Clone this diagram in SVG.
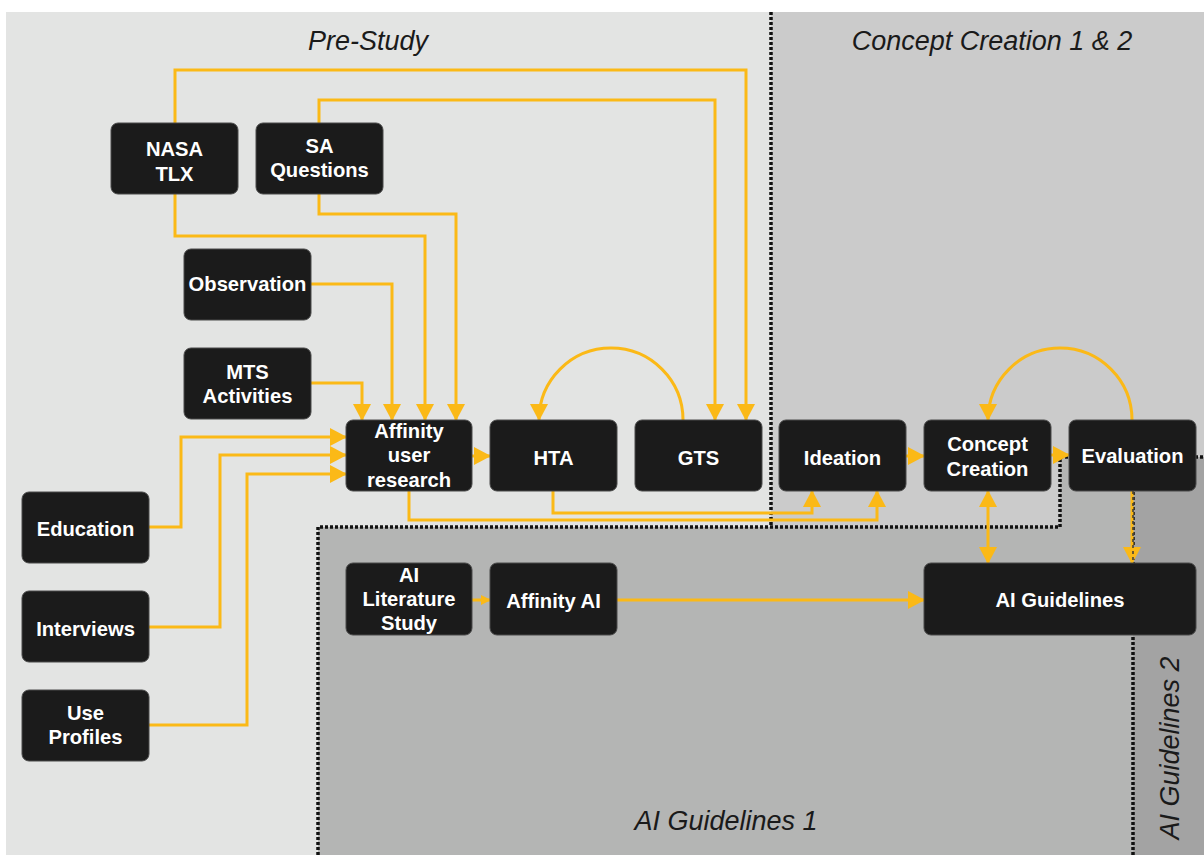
<svg xmlns="http://www.w3.org/2000/svg" width="1204" height="855" viewBox="0 0 1204 855">
  <defs>
    <style>
      .node rect { fill: #1b1b1b; stroke: #4a4a4a; stroke-width: 1; }
      .node text { font-family: "Liberation Sans", Arial, sans-serif; font-weight: bold; font-size: 20.2px; fill: #ffffff; text-anchor: middle; }
      .title { font-family: "Liberation Sans", Arial, sans-serif; font-style: italic; font-size: 27px; fill: #1a1a1a; text-anchor: middle; }
      .bound { fill: none; stroke: #111111; stroke-width: 3.5; stroke-dasharray: 3 2; }
      .conn { fill: none; stroke: #fbb917; stroke-width: 3; }
      .arr { marker-end: url(#ah); }
      .overlay { fill: none; stroke: #3a3a3a; stroke-width: 1.5; stroke-dasharray: 3 3; }
    </style>
    <marker id="ah" markerUnits="userSpaceOnUse" markerWidth="17" markerHeight="18" viewBox="0 0 17 18" refX="16" refY="9" orient="auto-start-reverse">
      <path d="M0,0 L17,9 L0,18 Z" fill="#fbb917"/>
    </marker>
    <marker id="ahs" markerUnits="userSpaceOnUse" markerWidth="10" markerHeight="10" viewBox="0 0 10 10" refX="9" refY="5" orient="auto">
      <path d="M0,0 L10,5 L0,10 Z" fill="#fbb917"/>
    </marker>
  </defs>

  <!-- phase regions -->
  <g id="regions">
    <rect x="0" y="0" width="1204" height="855" fill="#ffffff"/>
    <rect x="6" y="12" width="1198" height="843" fill="#e3e4e3"/>
    <polygon points="771,12 1204,12 1204,457 1060,457 1060,527 771,527" fill="#cbcbcb"/>
    <polygon points="318,527 1060,527 1060,457 1133,457 1133,855 318,855" fill="#b4b5b4"/>
    <rect x="1133" y="457" width="71" height="398" fill="#a3a3a3"/>
    <path class="bound" d="M771,12 V527"/>
    <path class="bound" d="M318,855 V527 H1060 V457 H1204"/>
    <path class="bound" d="M1133,457 V855"/>
    <text class="title" x="368" y="50">Pre-Study</text>
    <text class="title" x="992" y="50">Concept Creation 1 &amp; 2</text>
    <text class="title" x="726" y="830">AI Guidelines 1</text>
    <text class="title" transform="translate(1179,748) rotate(-90)">AI Guidelines 2</text>
  </g>

  <!-- connectors -->
  <g id="connectors">
    <path class="conn arr" d="M175,123 V70 H746 V420"/>
    <path class="conn arr" d="M319,123 V100 H715 V420"/>
    <path class="conn arr" d="M175,194 V236 H425 V420"/>
    <path class="conn arr" d="M319,194 V214 H456 V420"/>
    <path class="conn arr" d="M311,284 H392 V420"/>
    <path class="conn arr" d="M311,383 H362 V420"/>
    <path class="conn arr" d="M149,527 H181 V437 H346"/>
    <path class="conn arr" d="M149,627 H220 V455 H346"/>
    <path class="conn arr" d="M149,725 H247 V474 H346"/>
    <path class="conn arr" d="M472,456 H490"/>
    <path class="conn arr" d="M683,420 A72,72 0 0 0 539,420"/>
    <path class="conn arr" d="M409,491 V520 H877 V491"/>
    <path class="conn arr" d="M553,491 V513 H812 V491"/>
    <path class="conn arr" d="M906,456 H924"/>
    <path class="conn arr" d="M1051,455 H1069"/>
    <path class="conn arr" d="M1132,420 A72,72 0 0 0 988,420"/>
    <path class="conn" d="M988,491 V563" marker-start="url(#ah)" marker-end="url(#ah)"/>
    <path class="conn arr" d="M1132,491 V563"/>
    <path class="overlay" d="M1133,491 V561"/>
    <path class="conn" d="M472,600 H490" marker-end="url(#ahs)"/>
    <path class="conn arr" d="M617,600 H924"/>
  </g>

  <!-- nodes -->
  <g id="nasa-tlx" class="node">
    <rect x="111" y="123" width="127" height="71" rx="7"/>
    <text x="174.5" y="156">NASA</text>
    <text x="174.5" y="181">TLX</text>
  </g>
  <g id="sa-questions" class="node">
    <rect x="256" y="123" width="127" height="71" rx="7"/>
    <text x="319.5" y="153">SA</text>
    <text x="319.5" y="177">Questions</text>
  </g>
  <g id="observation" class="node">
    <rect x="184" y="249" width="127" height="71" rx="7"/>
    <text x="247.5" y="291">Observation</text>
  </g>
  <g id="mts-activities" class="node">
    <rect x="184" y="348" width="127" height="71" rx="7"/>
    <text x="247.5" y="379">MTS</text>
    <text x="247.5" y="403">Activities</text>
  </g>
  <g id="affinity-user-research" class="node">
    <rect x="346" y="420" width="126" height="71" rx="7"/>
    <text x="409" y="438">Affinity</text>
    <text x="409" y="462">user</text>
    <text x="409" y="487">research</text>
  </g>
  <g id="hta" class="node">
    <rect x="490" y="420" width="127" height="71" rx="7"/>
    <text x="553.5" y="465">HTA</text>
  </g>
  <g id="gts" class="node">
    <rect x="635" y="420" width="127" height="71" rx="7"/>
    <text x="698.5" y="465">GTS</text>
  </g>
  <g id="ideation" class="node">
    <rect x="779" y="420" width="127" height="71" rx="7"/>
    <text x="842.5" y="465">Ideation</text>
  </g>
  <g id="concept-creation" class="node">
    <rect x="924" y="420" width="127" height="71" rx="7"/>
    <text x="987.5" y="451">Concept</text>
    <text x="987.5" y="476">Creation</text>
  </g>
  <g id="evaluation" class="node">
    <rect x="1069" y="420" width="127" height="71" rx="7"/>
    <text x="1132.5" y="463">Evaluation</text>
  </g>
  <g id="ai-guidelines" class="node">
    <rect x="924" y="563" width="272" height="72" rx="7"/>
    <text x="1060" y="607">AI Guidelines</text>
  </g>
  <g id="ai-literature-study" class="node">
    <rect x="346" y="563" width="126" height="72" rx="7"/>
    <text x="409" y="582">AI</text>
    <text x="409" y="606">Literature</text>
    <text x="409" y="630">Study</text>
  </g>
  <g id="affinity-ai" class="node">
    <rect x="490" y="563" width="127" height="72" rx="7"/>
    <text x="553.5" y="608">Affinity AI</text>
  </g>
  <g id="education" class="node">
    <rect x="22" y="492" width="127" height="71" rx="7"/>
    <text x="85.5" y="536">Education</text>
  </g>
  <g id="interviews" class="node">
    <rect x="22" y="591" width="127" height="71" rx="7"/>
    <text x="85.5" y="636">Interviews</text>
  </g>
  <g id="use-profiles" class="node">
    <rect x="22" y="690" width="127" height="71" rx="7"/>
    <text x="85.5" y="720">Use</text>
    <text x="85.5" y="744">Profiles</text>
  </g>
</svg>
